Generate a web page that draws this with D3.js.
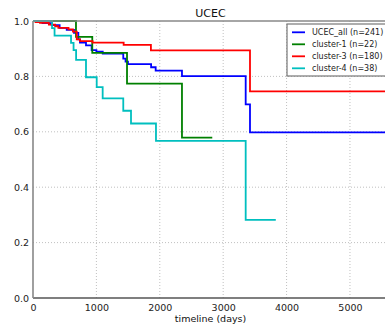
<!DOCTYPE html>
<html><head><meta charset="utf-8">
<script src="https://cdn.jsdelivr.net/npm/d3@7"></script>
<style>body{margin:0;background:#fff;overflow:hidden}svg{display:block}text{font-family:"DejaVu Sans",sans-serif}</style>
</head><body><div id="chart"></div>
<script>
const title = "UCEC";
const xLabel = "timeline (days)";
const xTicks = [0, 1000, 2000, 3000, 4000, 5000];
const yTicks = [0.0, 0.2, 0.4, 0.6, 0.8, 1.0];
const seriesNames = ["UCEC_all (n=241)", "cluster-1 (n=22)", "cluster-3 (n=180)", "cluster-4 (n=38)"];
const seriesColors = ["#0000ff", "#008000", "#ff0000", "#00bfbf"];

const allTimes = [0, 60, 150, 295, 420, 532, 647, 715, 741, 836, 925, 1000, 1100, 1424, 1460, 1498, 1863, 1935, 2350, 3355, 3423, 5700];
const allSurv  = [1.0, 0.996, 0.992, 0.985, 0.975, 0.968, 0.957, 0.934, 0.922, 0.912, 0.895, 0.889, 0.882, 0.864, 0.853, 0.844, 0.833, 0.821, 0.801, 0.699, 0.598, 0.598];

const c1Times = [0, 678, 935, 1483, 2350, 2828];
const c1Surv  = [1.0, 0.943, 0.885, 0.774, 0.579, 0.579];

const c3Times = [0, 40, 110, 250, 350, 400, 560, 630, 690, 741, 940, 1430, 1860, 3423, 5700];
const c3Surv  = [1.0, 0.996, 0.993, 0.987, 0.981, 0.975, 0.970, 0.962, 0.934, 0.927, 0.922, 0.914, 0.894, 0.746, 0.746];

const c4Times = [0, 300, 340, 600, 640, 680, 836, 1005, 1099, 1424, 1546, 1940, 3355, 3830];
const c4Surv  = [1.0, 0.974, 0.947, 0.921, 0.895, 0.860, 0.797, 0.761, 0.721, 0.676, 0.630, 0.567, 0.282, 0.282];

const seriesTimes = [allTimes, c1Times, c3Times, c4Times];
const seriesSurv = [allSurv, c1Surv, c3Surv, c4Surv];

const W = 385, H = 326;
const L = 33, R = 388, T = 21, B = 298;
const svg = d3.select("#chart").append("svg").attr("width", W).attr("height", H);

const x = d3.scaleLinear().domain([0, 5600]).range([L, R]);
const y = d3.scaleLinear().domain([0, 1]).range([B, T]);

svg.append("defs").append("clipPath").attr("id", "clip")
  .append("rect").attr("x", L).attr("y", T - 3).attr("width", R - L).attr("height", B - T + 6);

// grid
const grid = svg.append("g");
grid.selectAll("line.vg").data(xTicks.filter(d => d > 0)).enter().append("line")
  .attr("x1", d => x(d)).attr("x2", d => x(d)).attr("y1", T).attr("y2", B)
  .attr("stroke", "#b0b0b0").attr("stroke-width", 0.8).attr("stroke-dasharray", "1,2");
grid.selectAll("line.hg").data(yTicks.filter(d => d > 0 && d < 1)).enter().append("line")
  .attr("x1", L).attr("x2", R).attr("y1", d => y(d)).attr("y2", d => y(d))
  .attr("stroke", "#b0b0b0").attr("stroke-width", 0.8).attr("stroke-dasharray", "1,2");

// curves
const line = d3.line().x(d => x(d[0])).y(d => y(d[1])).curve(d3.curveStepAfter);
const curves = svg.append("g").attr("clip-path", "url(#clip)");
seriesTimes.forEach((ts, i) => {
  const pts = ts.map((t, j) => [t, seriesSurv[i][j]]);
  curves.append("path").datum(pts).attr("d", line)
    .attr("fill", "none").attr("stroke", seriesColors[i]).attr("stroke-width", 1.8);
});

// spines
svg.append("line").attr("x1", L).attr("x2", R).attr("y1", T).attr("y2", T).attr("stroke", "#888").attr("stroke-width", 1.6);
svg.append("line").attr("x1", L).attr("x2", R).attr("y1", B).attr("y2", B).attr("stroke", "#555").attr("stroke-width", 1.6);
svg.append("line").attr("x1", L).attr("x2", L).attr("y1", T).attr("y2", B).attr("stroke", "#888").attr("stroke-width", 1.6);

// axes
const xAxis = svg.append("g").attr("transform", `translate(0,${B})`)
  .call(d3.axisBottom(x).tickValues(xTicks).tickFormat(d3.format("d")).tickSize(0).tickPadding(6));
xAxis.select(".domain").remove();
xAxis.selectAll("text").attr("font-size", 9.5).attr("fill", "#222").attr("font-family", "DejaVu Sans");

const yAxis = svg.append("g").attr("transform", `translate(${L},0)`)
  .call(d3.axisLeft(y).tickValues(yTicks).tickFormat(d3.format(".1f")).tickSize(0).tickPadding(4));
yAxis.select(".domain").remove();
yAxis.selectAll("text").attr("font-size", 9.5).attr("fill", "#222").attr("font-family", "DejaVu Sans");

svg.append("text").attr("x", (L + R) / 2).attr("y", 322).attr("text-anchor", "middle")
  .attr("font-size", 9.5).attr("fill", "#111").text(xLabel);
svg.append("text").attr("x", (L + R) / 2).attr("y", 17).attr("text-anchor", "middle")
  .attr("font-size", 11).attr("fill", "#111").text(title);

// legend
const lg = svg.append("g");
lg.append("rect").attr("x", 287).attr("y", 24).attr("width", 110).attr("height", 52)
  .attr("fill", "#fff").attr("stroke", "#777").attr("stroke-width", 1.2);
seriesNames.forEach((n, i) => {
  const yy = 32.3 + i * 12;
  lg.append("line").attr("x1", 292).attr("x2", 305).attr("y1", yy).attr("y2", yy)
    .attr("stroke", seriesColors[i]).attr("stroke-width", 1.8);
  lg.append("text").attr("x", 312).attr("y", yy).attr("dy", "0.35em")
    .attr("font-size", 8).attr("fill", "#222").text(n);
});
</script></body></html>
